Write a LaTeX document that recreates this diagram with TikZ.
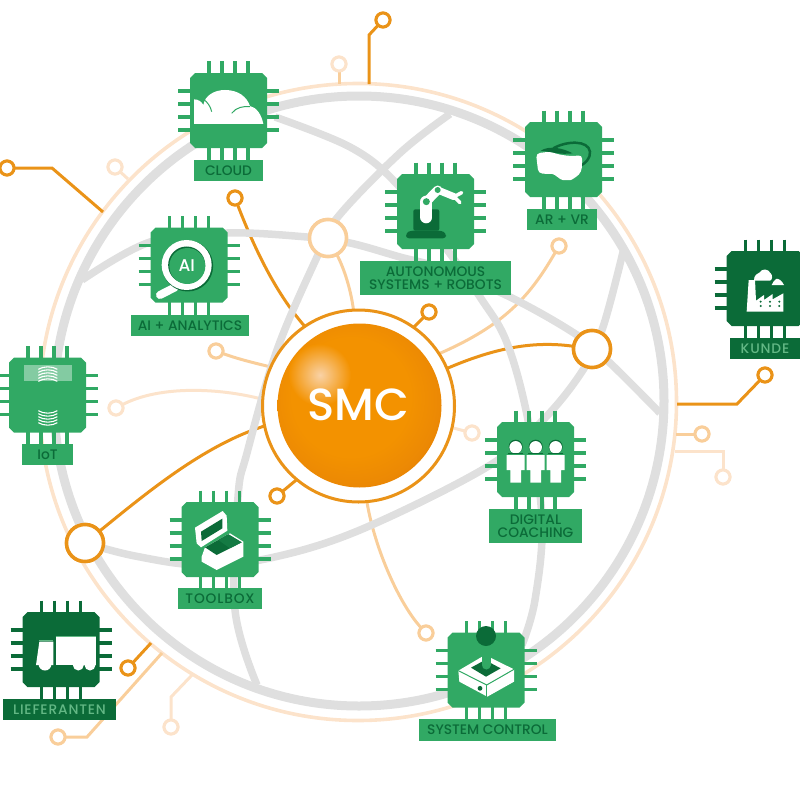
\documentclass[tikz,border=0pt]{standalone}
\usepackage{fontspec}
\setmainfont{Poppins Medium}
\usetikzlibrary{shapes.misc}
\definecolor{chipg}{HTML}{31A964}
\definecolor{chipd}{HTML}{0B6B38}
\definecolor{textl}{HTML}{63B885}
\definecolor{grayl}{HTML}{DFDFDF}
\definecolor{orng}{HTML}{EA9318}
\definecolor{pchm}{HTML}{F9CE9A}
\definecolor{pchl}{HTML}{FCE3CB}
\definecolor{ballB}{HTML}{F39200}
\definecolor{ballC}{HTML}{EC8904}
\definecolor{ballD}{HTML}{E27800}
\definecolor{hilite}{HTML}{F9D2A6}
\pgfdeclareradialshading{ballshade}{\pgfpoint{-4bp}{4bp}}{color(0bp)=(ballB);color(18bp)=(ballB);color(26bp)=(ballC);color(33bp)=(ballD);color(50bp)=(ballD)}
\tikzset{
  pinline/.style={line width=3.3pt},
  lab/.style={rectangle,inner sep=0pt,outer sep=0pt,align=center,font=\fontsize{13.8}{12.5}\selectfont},
  labg/.style={lab,fill=chipg,text=chipd},
  labd/.style={lab,fill=chipd,text=textl,font=\fontsize{13.8}{12.5}\selectfont\addfontfeature{LetterSpace=6}},
  labw/.style={labg,font=\fontsize{13.8}{12.5}\selectfont\addfontfeature{LetterSpace=6}},
  portO/.style={circle,draw=orng,fill=white,line width=3pt,minimum size=14pt,inner sep=0pt,outer sep=0pt},
  portM/.style={circle,draw=pchm,fill=white,line width=3pt,minimum size=14pt,inner sep=0pt,outer sep=0pt},
  portL/.style={circle,draw=pchl,fill=white,line width=3pt,minimum size=14pt,inner sep=0pt,outer sep=0pt},
  hubO/.style={circle,draw=orng,fill=white,line width=3.5pt,minimum size=37pt,inner sep=0pt,outer sep=0pt},
  hubM/.style={circle,draw=pchm,fill=white,line width=3.5pt,minimum size=37pt,inner sep=0pt,outer sep=0pt},
  linkO/.style={draw=orng,line width=3pt},
  linkM/.style={draw=pchm,line width=3pt},
  linkL/.style={draw=pchl,line width=3pt},
  ringline/.style={draw=pchl,line width=3.6pt},
  globeO/.style={draw=grayl,line width=9pt},
  globe/.style={draw=grayl,line width=7.5pt},
  zm/.style 2 args={shift={(#1,#2)},x=.33333pt,y=-.33333pt},
}
\newcommand{\chipbox}[4]{%
  \begin{scope}[shift={(#2,#3)}]
    \foreach \k in {-19.5,-6.5,6.5,19.5}{
      \draw[pinline,#4] (\k,-49) -- (\k,50);
      \draw[pinline,#4] (-50.5,\k) -- (50.5,\k);
    }
    \fill[#4] (-33.5,-37.5) -- (33.5,-37.5) -- (38.5,-32.5) -- (38.5,32.5) -- (33.5,37.5) -- (-33.5,37.5) -- (-38.5,32.5) -- (-38.5,-32.5) -- cycle;
    \node[rectangle,minimum width=77pt,minimum height=75pt,inner sep=0pt,outer sep=0pt] (#1) at (0,0) {};
  \end{scope}}
\begin{document}
\begin{tikzpicture}[x=1pt,y=-1pt]
\useasboundingbox (0,0) rectangle (800,800);
\clip (0,0) rectangle (800,800);
% ports and hubs positions
\coordinate (hubAc) at (328,238);
\coordinate (hubBc) at (592,349);
\coordinate (hubCc) at (85,543);
\node[circle,minimum size=192pt,inner sep=0pt,outer sep=0pt] (smc) at (358.5,406) {};
\node[hubM] (hubA) at (hubAc) {};
\node[hubO] (hubB) at (hubBc) {};
\node[hubO] (hubC) at (hubCc) {};
\node[portO] (p1) at (383,20) {};
\node[portL] (p2) at (339,64) {};
\node[portO] (p3) at (7,168) {};
\node[portL] (p4) at (115,167) {};
\node[portO] (p5) at (235,198) {};
\node[portO] (p6) at (429,312) {};
\node[portM] (p7) at (559,246) {};
\node[portL] (p8) at (472,433) {};
\node[portM] (p9) at (216,351) {};
\node[portL] (p10) at (116,408) {};
\node[portO] (p11) at (277,496) {};
\node[portM] (p12) at (426,633) {};
\node[portO] (p13) at (128,668) {};
\node[portM] (p14) at (58,737) {};
\node[portL] (p15) at (171,727) {};
\node[portO] (p16) at (765,375) {};
\node[portM] (p17) at (702,434) {};
\node[portL] (p18) at (723,477) {};
% outer thin ring
\draw[ringline] (358,402) circle (318.5pt);
% free ends on the ring
\coordinate (e1) at (369,84);
\coordinate (e2) at (339,84);
\coordinate (e3) at (103,212);
\coordinate (e4) at (128,179);
\coordinate (e13) at (151,643);
\coordinate (e14) at (162,653);
\coordinate (e15) at (193,674);
\coordinate (e16) at (677,404);
\coordinate (e17) at (676,434);
\coordinate (e18) at (675,451);
% links
\draw[linkO] (p1) -- (369,35) -- (e1);
\draw[linkM] (p2) -- (e2);
\draw[linkO] (p3) -- (52,168) -- (e3);
\draw[linkL] (p4) -- (e4);
\draw[linkO] (p5) .. controls (258,258) and (280,298) .. (smc.124);
\draw[linkM] (hubA) .. controls (344,268) and (351,290) .. (smc.93);
\draw[linkO] (p6) -- (smc.55);
\draw[linkM] (p7) .. controls (530,296) and (505,325) .. (smc.33);
\draw[linkO] (hubB) .. controls (530,340) and (490,350) .. (smc.23);
\draw[linkL] (p8) -- (smc.-13);
\draw[linkO] (hubC) .. controls (150,490) and (205,445) .. (smc.192);
\draw[linkM] (p9) .. controls (235,358) and (250,362) .. (smc.156);
\draw[linkL] (p10) .. controls (160,385) and (220,388) .. (smc.176);
\draw[linkO] (p11) -- (smc.230);
\draw[linkM] (smc.-85) .. controls (375,550) and (400,605) .. (p12);
\draw[linkO] (p13) -- (e13);
\draw[linkM] (p14) -- (87,737) -- (e14);
\draw[linkL] (p15) -- (171,697) -- (e15);
\draw[linkO] (p16) -- (737,404) -- (e16);
\draw[linkM] (p17) -- (e17);
\draw[linkL] (p18) -- (723,451) -- (e18);
% globe
\draw[globeO] (359,401) circle (305pt);
\draw[globe] plot[smooth,tension=.6] coordinates {(450,114) (400,153) (337,218) (317,257) (277,350) (247,453) (238,497) (235,610) (257,685)};
\draw[globe] plot[smooth,tension=.6] coordinates {(275,117) (350,147) (395,182) (440,240) (480,297) (507,343) (528,420) (542,520) (535,600) (522,645)};
\draw[globe] plot[smooth,tension=.6] coordinates {(82,280) (150,242) (227,233) (307,237) (350,243) (400,257) (440,268) (510,297) (577,335) (610,363) (660,413)};
\draw[globe] plot[smooth,tension=.6] coordinates {(623,252) (603,327) (583,370) (543,420) (487,467) (360,530) (270,558) (200,565) (135,556) (85,543)};
% hubs again on top
\node[hubM] at (hubAc) {};
\node[hubO] at (hubBc) {};
\node[hubO] at (hubCc) {};
% redraw ports above links
\foreach \n/\s in {p1/portO,p2/portL,p3/portO,p4/portL,p5/portO,p6/portO,p7/portM,p8/portL,p9/portM,p10/portL,p11/portO,p12/portM,p13/portO,p14/portM,p15/portL,p16/portO,p17/portM,p18/portL}{
  \node[\s] at (\n) {};
}
% SMC
\node[circle,draw=orng,fill=white,line width=3pt,minimum size=192pt,inner sep=0pt,outer sep=0pt] at (smc) {};
\node[circle,minimum size=164pt,inner sep=0pt,outer sep=0pt,shading=ballshade] (ball) at (359.5,405.5) {};
\shade[inner color=hilite,outer color=ballB] (320,375) circle (31pt);
\node[text=white,inner sep=0pt,font=\fontsize{45}{45}\selectfont] (smctext) at (358,405) {SMC};
% CLOUD
\chipbox{cloud}{228.5}{110.5}{chipg}
\begin{scope}[zm={150}{50}]
  \fill[white] (132,222) -- (132,148) .. controls (145,148) and (155,155) .. (160,165) .. controls (165,135) and (195,120) .. (225,120) .. controls (265,120) and (290,140) .. (300,168) .. controls (320,172) and (335,195) .. (340,222) -- cycle;
  \draw[chipg,line width=1pt] (160,148) .. controls (172,155) and (182,170) .. (185,185);
  \draw[chipg,line width=1pt] (245,190) .. controls (258,172) and (280,168) .. (300,170);
\end{scope}
\node[labg,minimum width=69pt,minimum height=21pt] (cloudl) at (228.5,170.5) {CLOUD};
% AI
\chipbox{ai}{189}{265}{chipg}
\begin{scope}[zm={150}{50}]
  \draw[white,line width=8pt,line cap=round] (75,712) -- (30,735);
  \fill[chipd] (113,648) circle (25.5pt);
  \fill[white] (110,645) circle (25pt);
  \fill[chipd] (110,645) circle (18.5pt);
  \fill[chipg] (112,648) circle (18pt);
  \node[text=white,inner sep=0pt,font=\fontsize{17}{17}\selectfont] (aitxt) at (110,648) {AI};
\end{scope}
\node[labg,minimum width=118pt,minimum height=21pt] (ail) at (190,325.5) {AI + ANALYTICS};
% ROBOTS
\chipbox{robot}{435.5}{211.5}{chipg}
\begin{scope}[zm={350}{100}]
  \fill[chipd,rounded corners=2pt] (190,392) -- (190,328) -- (268,328) -- (268,392) -- cycle;
  \fill[chipd,rounded corners=3pt] (168,415) -- (168,400) -- (180,392) -- (275,392) -- (288,400) -- (288,415) -- cycle;
  \draw[white,line width=12pt,line cap=round] (229,305) -- (229,352);
  \draw[white,line width=9pt,line cap=round] (229,305) -- (263,270);
  \draw[white,line width=7pt,line cap=round] (263,270) -- (312,290);
  \draw[white,line width=3.5pt,line cap=round] (312,290) -- (335,278);
  \draw[white,line width=3.5pt,line cap=round] (312,290) -- (330,308);
  \fill[chipg] (229,305) circle (3.5pt);
  \fill[chipg] (263,270) circle (3pt);
\end{scope}
\node[labg,minimum width=151pt,minimum height=34pt] (robotl) at (435.5,278) {AUTONOMOUS\\SYSTEMS + ROBOTS};
% AR VR
\chipbox{arvr}{563.5}{159.5}{chipg}
\begin{scope}[zm={350}{100}]
  \draw[chipd,line width=2.5pt] (610,145) .. controls (650,122) and (715,120) .. (720,155) .. controls (722,175) and (705,190) .. (695,195);
  \fill[chipd] (572,152) .. controls (600,135) and (640,145) .. (668,160) .. controls (630,165) and (600,155) .. cycle;
  \fill[white,rounded corners=4pt] (558,160) -- (600,155) .. controls (630,165) and (660,170) .. (697,165) -- (695,215) .. controls (680,230) and (665,240) .. (650,240) .. controls (630,240) and (615,222) .. (595,222) -- (565,220) -- cycle;
\end{scope}
\node[labg,minimum width=70pt,minimum height=21pt] (arvrl) at (562,219.5) {AR + VR};
% IoT
\chipbox{iot}{47.5}{395}{chipg}
\begin{scope}[zm={0}{340}]
  \fill[white!40!chipg] (72,75) rectangle (215,122);
  \foreach \y in {88,97,106,115,124}{
    \draw[white,line width=1.1pt] (115,\y) .. controls (130,\y-10) and (157,\y-10) .. (172,\y);
  }
  \foreach \y in {212,221,230,239,248}{
    \draw[white,line width=1.1pt] (115,\y) .. controls (130,\y+10) and (157,\y+10) .. (172,\y);
  }
\end{scope}
\node[labg,minimum width=51pt,minimum height=21pt] (iotl) at (47.5,454.5) {IoT};
% TOOLBOX
\chipbox{toolbox}{220}{539.5}{chipg}
\begin{scope}[zm={0}{340}]
  \fill[white] (585,563) -- (668,513) -- (680,527) -- (682,572) -- (603,622) -- (590,610) -- cycle;
  \fill[chipd] (603,575) -- (667,536) -- (667,565) -- (605,603) -- cycle;
  \fill[white] (605,650) -- (615,622) -- (690,580) -- (730,605) -- (730,650) -- (650,690) -- (605,665) -- cycle;
  \fill[chipd] (615,622) -- (685,583) -- (725,607) -- (650,645) -- cycle;
  \fill[chipd!75!chipg] (655,600) -- (685,583) -- (725,607) -- (690,625) -- cycle;
\end{scope}
\node[labw,minimum width=84pt,minimum height=21pt] (toolboxl) at (220,598.5) {TOOLBOX};
% LIEFERANTEN
\chipbox{lief}{61}{649.5}{chipd}
\begin{scope}[zm={0}{590}]
  \fill[white] (108,225) -- (118,155) -- (160,155) -- (160,225) -- cycle;
  \fill[white] (135,222) circle (6.5pt);
  \fill[white] (167,140) rectangle (288,225);
  \fill[white] (235,225) circle (5.5pt);
  \fill[white] (270,225) circle (5.5pt);
  \draw[textl,line width=1pt] (118,152) -- (160,152);
  \draw[textl,line width=1pt] (167,138) -- (288,138);
\end{scope}
\node[labd,minimum width=113pt,minimum height=21pt] (liefl) at (59.5,709.5) {LIEFERANTEN};
% SYSTEM CONTROL
\chipbox{syst}{486}{670}{chipg}
\begin{scope}[zm={400}{600}]
  \fill[white] (175,212) -- (255,165) -- (342,208) -- (342,245) -- (262,290) -- (178,245) -- cycle;
  \fill[chipd] (213,203) -- (255,180) -- (302,205) -- (258,230) -- cycle;
  \draw[chipg,line width=1pt] (175,212) -- (260,255) -- (342,208);
  \draw[chipg,line width=1pt] (260,255) -- (260,290);
  \fill[chipd] (240,265) circle (2.4pt);
  \draw[chipg,line width=9pt,line cap=round] (258,150) -- (258,195);
  \fill[chipd] (258,108) circle (10pt);
\end{scope}
\node[labg,minimum width=137pt,minimum height=22pt] (systl) at (487.5,730) {SYSTEM CONTROL};
% KUNDE
\chipbox{kunde}{765}{288.5}{chipd}
\begin{scope}[zm={640}{230}]
  \fill[white] (326,150) -- (345,150) -- (348,212) -- (372,195) -- (372,210) -- (398,192) -- (398,208) -- (430,190) -- (430,245) -- (320,245) -- cycle;
  \fill[white] (342,152) .. controls (340,135) and (355,130) .. (358,128) .. controls (365,115) and (385,115) .. (392,130) .. controls (398,135) and (398,150) .. (390,152) -- cycle;
  \fill[white] (395,165) .. controls (395,155) and (405,155) .. (408,147) .. controls (415,145) and (425,150) .. (432,165) -- cycle;
  \foreach \x in {362,390,418}{\foreach \y in {215,228}{\fill[chipd] (\x,\y) circle (1.1pt);}}
\end{scope}
\node[labd,minimum width=70pt,minimum height=21pt] (kundel) at (765,348.5) {KUNDE};
% DIGITAL COACHING
\chipbox{digi}{535.5}{459.5}{chipg}
\begin{scope}[zm={260}{300}]
  \foreach \x in {767,827,887}{
    \fill[chipd] (\x,440) circle (7pt);
    \fill[white] (\x,442) circle (6.3pt);
    \fill[white] (\x-27,465) -- (\x+27,465) -- (\x+27,510) -- (\x+16,510) -- (\x+16,548) -- (\x-16,548) -- (\x-16,510) -- (\x-27,510) -- cycle;
    \draw[chipd,line width=.7pt] (\x-22,461) -- (\x+22,461);
  }
\end{scope}
\node[labg,minimum width=93pt,minimum height=34pt] (digil) at (535.5,526) {DIGITAL\\COACHING};
\end{tikzpicture}
\end{document}
